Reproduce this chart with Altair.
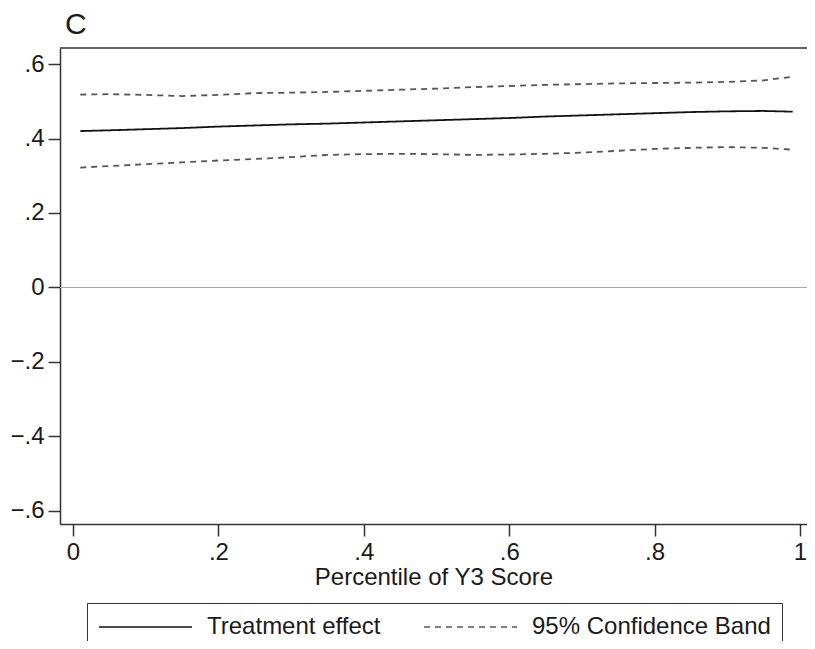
import altair as alt
import pandas as pd

# percentile grid of the estimates
pct = [0.01, 0.05, 0.10, 0.15, 0.20, 0.25, 0.30, 0.35, 0.40, 0.45, 0.50,
       0.55, 0.60, 0.65, 0.70, 0.75, 0.80, 0.85, 0.90, 0.95, 0.99]
effect = [0.420, 0.422, 0.425, 0.428, 0.432, 0.435, 0.438, 0.440, 0.443, 0.446, 0.449,
          0.452, 0.455, 0.459, 0.462, 0.465, 0.468, 0.471, 0.473, 0.474, 0.472]
upper = [0.518, 0.519, 0.517, 0.514, 0.517, 0.522, 0.523, 0.525, 0.528, 0.531, 0.534,
         0.538, 0.541, 0.544, 0.546, 0.548, 0.549, 0.550, 0.552, 0.556, 0.566]
lower = [0.322, 0.326, 0.331, 0.336, 0.341, 0.345, 0.350, 0.356, 0.358, 0.359, 0.358,
         0.356, 0.357, 0.359, 0.362, 0.367, 0.372, 0.375, 0.377, 0.375, 0.370]

series_names = ["Treatment effect", "95% Confidence Band"]
x_ticks = [0, 0.2, 0.4, 0.6, 0.8, 1]
y_ticks = [-0.6, -0.4, -0.2, 0, 0.2, 0.4, 0.6]

rows = []
for name, key, vals in [(series_names[0], "effect", effect),
                        (series_names[1], "upper", upper),
                        (series_names[1], "lower", lower)]:
    for p, v in zip(pct, vals):
        rows.append({"pct": p, "value": v, "series": name, "line": key})
df = pd.DataFrame(rows)

FONT = "Liberation Sans"
W, H = 747, 476
label_expr = "replace(format(datum.value, '.1~f'), '0.', '.')"

xs = alt.Scale(domain=[-0.0179, 1.0096], nice=False, zero=False)
ys = alt.Scale(domain=[-0.635, 0.643], nice=False, zero=False)


def make_legend():
    return alt.Legend(title=None, orient="none", legendX=27, legendY=555,
                      direction="horizontal", strokeColor="#333",
                      padding=11, symbolType="M-1,0H6.75",
                      symbolSize=576, symbolStrokeWidth=1.5,
                      labelFontSize=24, labelFont=FONT, labelColor="#1a1a1a",
                      labelOffset=83, columnPadding=40, labelLimit=500)


zero = alt.Chart(pd.DataFrame({"z": [0]})).mark_rule(color="#a8a8a8", strokeWidth=1).encode(
    y=alt.Y("z:Q", scale=ys)
)

top_border = alt.Chart(pd.DataFrame({"z": [0]})).mark_rule(color="#333", strokeWidth=1.5).encode(
    x=alt.value(0), x2=alt.value(W), y=alt.value(0)
)

lines = alt.Chart(df).mark_line(strokeWidth=1.8).encode(
    x=alt.X("pct:Q", scale=xs,
            axis=alt.Axis(values=x_ticks, labelExpr=label_expr,
                          title="Percentile of Y3 Score")),
    y=alt.Y("value:Q", scale=ys,
            axis=alt.Axis(values=y_ticks, labelExpr=label_expr, title=None)),
    color=alt.Color("series:N",
                    scale=alt.Scale(domain=series_names, range=["#111111", "#555555"]),
                    legend=make_legend()),
    strokeDash=alt.StrokeDash("series:N",
                              scale=alt.Scale(domain=series_names, range=[[1, 0], [6, 5]]),
                              legend=make_legend()),
    detail="line:N",
)

chart = alt.layer(zero, top_border, lines).properties(
    width=W, height=H,
    title=alt.TitleParams("C", anchor="start", frame="group", fontSize=30, font=FONT,
                          fontWeight="normal", color="#1a1a1a", dx=5, offset=7),
    padding={"left": 52, "top": 40, "right": 0, "bottom": 117},
    autosize=alt.AutoSizeParams(type="none"),
).configure_view(stroke="transparent", strokeWidth=0).configure_axis(
    grid=False, domainColor="#333", domainWidth=1.5, tickColor="#333", tickWidth=1.5,
    tickSize=12, labelFont=FONT, labelFontSize=24, labelColor="#1a1a1a", labelPadding=4,
    titleFont=FONT, titleFontSize=24, titleFontWeight="normal", titleColor="#1a1a1a",
    titlePadding=1,
).configure_axisY(labelPadding=4)

chart.save("out.html", embed_options={"renderer": "svg", "actions": False})
